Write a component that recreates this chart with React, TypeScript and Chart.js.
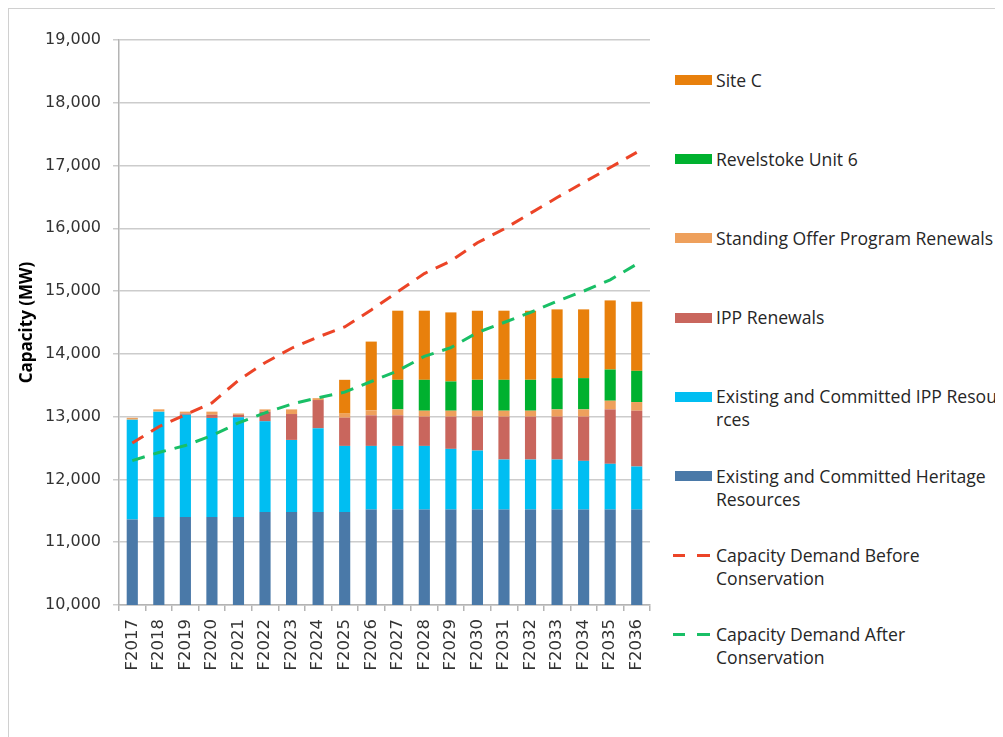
import React, { useEffect, useRef } from "react";
import { Chart, registerables } from "chart.js";

Chart.register(...registerables);

const categories = [
  "F2017", "F2018", "F2019", "F2020", "F2021", "F2022", "F2023", "F2024", "F2025", "F2026",
  "F2027", "F2028", "F2029", "F2030", "F2031", "F2032", "F2033", "F2034", "F2035", "F2036",
];

const heritage = [11360, 11400, 11400, 11400, 11400, 11480, 11480, 11480, 11480, 11520, 11520, 11520, 11520, 11520, 11520, 11520, 11520, 11520, 11520, 11520];
const ippExisting = [1592, 1680, 1630, 1580, 1590, 1446, 1150, 1335, 1054, 1014, 1014, 1014, 967, 940, 797, 797, 797, 776, 729, 686];
const ippRenewals = [0, 0, 20, 50, 40, 153, 412, 450, 450, 487, 487, 466, 513, 540, 683, 683, 683, 704, 867, 889];
const sopRenewals = [30, 37, 30, 50, 20, 37, 74, 30, 64, 80, 95, 95, 95, 95, 95, 95, 116, 116, 138, 138];
const revelstoke = [0, 0, 0, 0, 0, 0, 0, 0, 0, 0, 471, 492, 466, 492, 492, 492, 498, 498, 497, 497];
const siteC = [0, 0, 0, 0, 0, 0, 0, 0, 539, 1095, 1101, 1101, 1100, 1101, 1101, 1101, 1095, 1095, 1101, 1101];
const demandBefore = [12580, 12840, 13030, 13220, 13580, 13860, 14090, 14270, 14430, 14700, 14990, 15280, 15480, 15770, 15990, 16240, 16490, 16730, 16970, 17210];
const demandAfter = [12300, 12430, 12540, 12700, 12900, 13060, 13200, 13300, 13390, 13560, 13730, 13960, 14100, 14340, 14500, 14660, 14840, 15000, 15180, 15430];

const yMin = 10000;
const yMax = 19000;
const yStep = 1000;

const COLORS = {
  siteC: "#E8800C",
  revelstoke: "#00B12F",
  sop: "#EEA05C",
  ippRenewals: "#C9665D",
  ippExisting: "#00BEF2",
  heritage: "#4A79A8",
  before: "#EC4427",
  after: "#19BF66",
};

type LegendItem = { lines: string[]; color: string; kind: "bar" | "line" };

const legendItems: LegendItem[] = [
  { lines: ["Site C"], color: COLORS.siteC, kind: "bar" },
  { lines: ["Revelstoke Unit 6"], color: COLORS.revelstoke, kind: "bar" },
  { lines: ["Standing Offer Program Renewals"], color: COLORS.sop, kind: "bar" },
  { lines: ["IPP Renewals"], color: COLORS.ippRenewals, kind: "bar" },
  { lines: ["Existing and Committed IPP Resou", "rces"], color: COLORS.ippExisting, kind: "bar" },
  { lines: ["Existing and Committed Heritage", "Resources"], color: COLORS.heritage, kind: "bar" },
  { lines: ["Capacity Demand Before", "Conservation"], color: COLORS.before, kind: "line" },
  { lines: ["Capacity Demand After", "Conservation"], color: COLORS.after, kind: "line" },
];

export default function App() {
  const ref = useRef<HTMLCanvasElement>(null);

  useEffect(() => {
    if (!ref.current) return;
    const bar = (label: string, data: number[], color: string) => ({
      type: "bar" as const,
      label,
      data,
      backgroundColor: color,
      borderWidth: 0,
      stack: "supply",
      order: 2,
      barPercentage: 0.42,
      categoryPercentage: 1,
    });
    const line = (label: string, data: number[], color: string, stack: string) => ({
      type: "line" as const,
      label,
      data,
      borderColor: color,
      backgroundColor: color,
      borderWidth: 3,
      borderDash: [13, 9],
      pointRadius: 0,
      tension: 0,
      fill: false,
      stack,
      order: 0,
    });

    const chart = new Chart(ref.current, {
      type: "bar",
      data: {
        labels: categories,
        datasets: [
          bar("Existing and Committed Heritage Resources", heritage, COLORS.heritage),
          bar("Existing and Committed IPP Resources", ippExisting, COLORS.ippExisting),
          bar("IPP Renewals", ippRenewals, COLORS.ippRenewals),
          bar("Standing Offer Program Renewals", sopRenewals, COLORS.sop),
          bar("Revelstoke Unit 6", revelstoke, COLORS.revelstoke),
          bar("Site C", siteC, COLORS.siteC),
          line("Capacity Demand Before Conservation", demandBefore, COLORS.before, "before"),
          line("Capacity Demand After Conservation", demandAfter, COLORS.after, "after"),
        ] as any,
      },
      options: {
        responsive: false,
        animation: false,
        layout: { padding: { top: 31, right: 19, left: 0, bottom: 0 } },
        plugins: {
          legend: { display: false },
          tooltip: { enabled: false },
        },
        scales: {
          x: {
            stacked: true,
            offset: true,
            grid: {
              offset: true,
              drawOnChartArea: false,
              drawTicks: true,
              tickLength: 6,
              color: "#b4b4b4",
              lineWidth: 1.5,
            },
            border: { color: "#b4b4b4", width: 1.5 },
            ticks: {
              minRotation: 90,
              maxRotation: 90,
              autoSkip: false,
              padding: 8,
              color: "#333333",
              font: { family: "'DejaVu Sans', sans-serif", size: 16.5 },
            },
            afterFit: (scale: any) => {
              scale.height = 132;
            },
          },
          y: {
            stacked: true,
            min: yMin,
            max: yMax,
            ticks: {
              stepSize: yStep,
              padding: 12,
              color: "#333333",
              font: { family: "'DejaVu Sans', sans-serif", size: 16 },
              callback: (v: any) => Number(v).toLocaleString("en-US"),
            },
            grid: {
              color: "#cccccc",
              lineWidth: 1.5,
              tickLength: 6,
              drawTicks: true,
            },
            border: { color: "#b4b4b4", width: 1.5 },
            title: {
              display: true,
              text: "Capacity (MW)",
              color: "#000000",
              font: { family: "'Open Sans', sans-serif", size: 17, weight: "bold" },
              padding: { top: 8, bottom: 0 },
            },
            afterFit: (scale: any) => {
              scale.width = 110;
            },
          },
        },
      } as any,
    });
    return () => chart.destroy();
  }, []);

  return (
    <div
      style={{
        position: "relative",
        width: 995,
        height: 729,
        overflow: "hidden",
        boxSizing: "border-box",
        borderTop: "1px solid #d0d0d0",
        borderLeft: "1px solid #d0d0d0",
        background: "#ffffff",
      }}
    >
      <canvas
        ref={ref}
        width={660}
        height={728}
        style={{ position: "absolute", left: 0, top: 0, width: 660, height: 728 }}
      />
      {legendItems.map((item, i) => {
        const top = 80 - 9 - 11.5 + i * 79.2;
        return (
          <div
            key={i}
            style={{
              position: "absolute",
              left: 664,
              top,
              width: 400,
              fontFamily: "'Open Sans', sans-serif",
              fontSize: 17.6,
              lineHeight: "23px",
              color: "#262626",
              whiteSpace: "nowrap",
            }}
          >
            {item.kind === "bar" ? (
              <div
                style={{
                  position: "absolute",
                  left: 2,
                  top: 6.5,
                  width: 37,
                  height: 10,
                  background: item.color,
                }}
              />
            ) : (
              <>
                <div style={{ position: "absolute", left: 0, top: 10, width: 12, height: 3, background: item.color }} />
                <div style={{ position: "absolute", left: 24, top: 10, width: 13, height: 3, background: item.color }} />
              </>
            )}
            <div style={{ marginLeft: 43 }}>
              {item.lines.map((l, j) => (
                <div key={j}>{l}</div>
              ))}
            </div>
          </div>
        );
      })}
    </div>
  );
}
